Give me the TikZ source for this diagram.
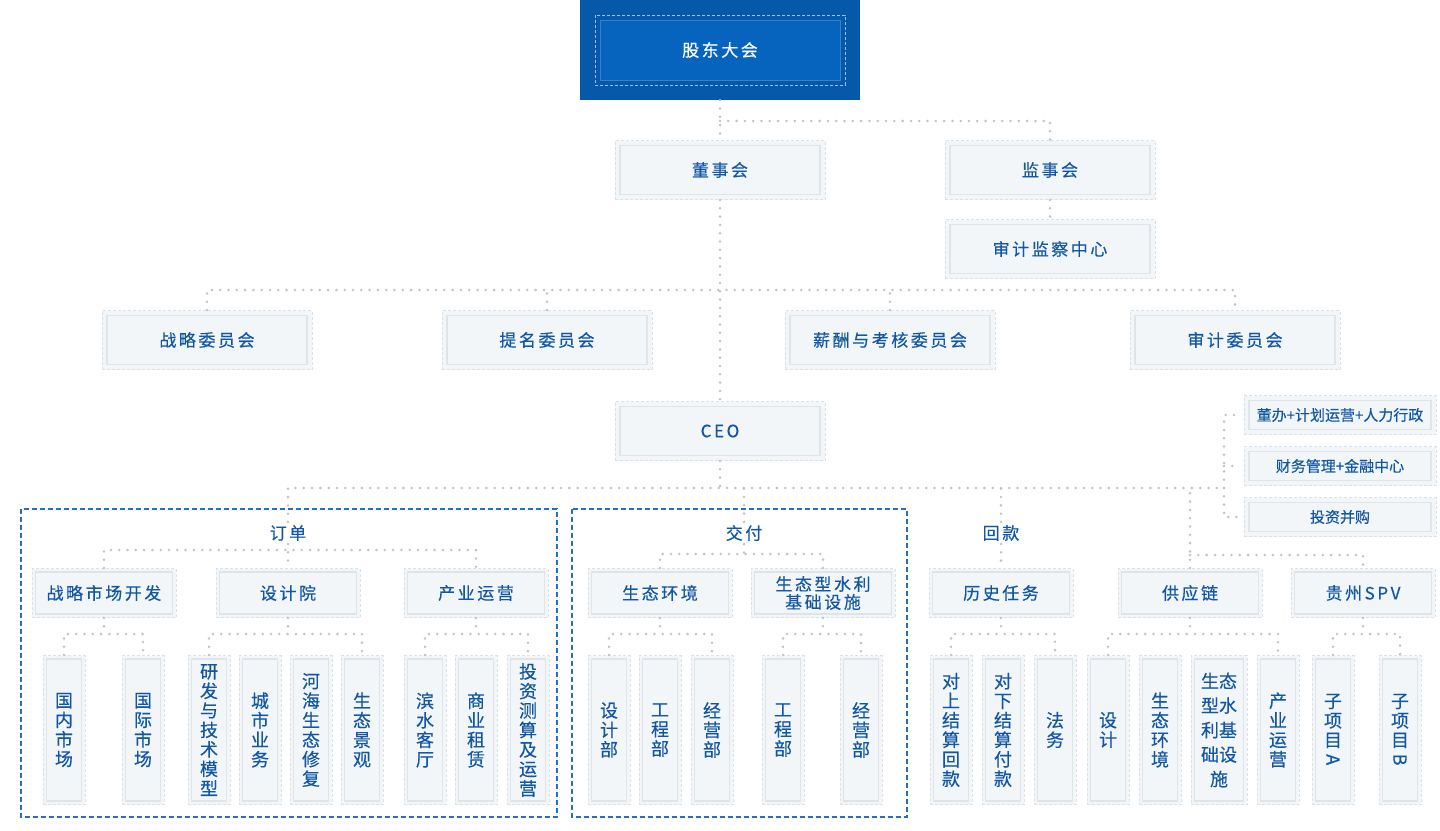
\documentclass[tikz,border=0pt]{standalone}
\usepackage{fontspec}
\usepackage{graphicx}
\setmainfont{Noto Sans CJK SC}
\newfontfamily\cjk[FakeBold=0.4]{Noto Sans CJK SC}
\newfontfamily\cjkwide[LetterSpace=15, FakeBold=0.4]{Noto Sans CJK SC}

\definecolor{topblue}{HTML}{0559A8}
\definecolor{topinner}{HTML}{0664BE}
\definecolor{topedge}{HTML}{3A80C8}
\definecolor{topdash}{HTML}{9DC2E8}
\definecolor{boxfill}{HTML}{F3F6F9}
\definecolor{boxedge}{HTML}{DFE4E9}
\definecolor{boxdash}{HTML}{DCE1E6}
\definecolor{txtblue}{HTML}{1257A5}
\definecolor{dotgray}{HTML}{BFC3C7}
\definecolor{frameblue}{HTML}{2470BE}

\newcommand\boxinset{5pt}

\tikzset{
  inset/.code={\def\boxinset{#1}},
  unit/.style={draw=boxdash, dash pattern=on 3pt off 2pt, line width=1pt,
    fill=boxfill, text=txtblue, inner sep=0pt, align=center,
    minimum width=210pt, minimum height=59pt,
    font=\cjkwide\fontsize{17pt}{18pt}\selectfont,
    path picture={\draw[boxedge, solid, line width=1.2pt]
      ([xshift=\boxinset, yshift=-\boxinset]path picture bounding box.north west) rectangle
      ([xshift=-\boxinset, yshift=\boxinset]path picture bounding box.south east);}},
  mid/.style={unit, minimum width=144pt, minimum height=49pt, inset=3.5pt},
  leaf/.style={unit, minimum width=42pt, minimum height=149pt, inset=3.5pt,
    font=\cjk\fontsize{18pt}{19.5pt}\selectfont, node distance=51pt},
  side/.style={unit, minimum width=192pt, minimum height=39pt,
    font=\cjk\fontsize{15pt}{15pt}\selectfont},
  tag/.style={text=txtblue, inner sep=3pt, font=\cjkwide\fontsize{17pt}{18pt}\selectfont},
  topbox/.style={fill=topblue, text=white, inner sep=0pt,
    minimum width=280pt, minimum height=100pt,
    font=\cjkwide\fontsize{17pt}{18pt}\selectfont,
    path picture={
      \draw[topdash, line width=1pt, dash pattern=on 3pt off 2pt]
        ([xshift=15pt, yshift=-15pt]path picture bounding box.north west) rectangle
        ([xshift=-15pt, yshift=15pt]path picture bounding box.south east);
      \draw[topedge, fill=topinner, line width=1pt]
        ([xshift=20pt, yshift=-20pt]path picture bounding box.north west) rectangle
        ([xshift=-20pt, yshift=20pt]path picture bounding box.south east);}},
  dotline/.style={draw=dotgray, line width=2.8pt, line cap=round,
    dash pattern=on 0pt off 8.3pt},
  team/.style={draw=frameblue, line width=1.6pt, dash pattern=on 5pt off 3pt}
}

\begin{document}
\begin{tikzpicture}[x=1pt, y=-1pt]
  \useasboundingbox (0,0) rectangle (1440,830);

  % groups
  \draw[team] (21,509) rectangle (557,817);
  \draw[team] (572,509) rectangle (907,817);

  % top
  \node (gd)   [topbox] at (720,50)                     {股东大会};
  \node (dsh)  [unit, below of=gd, node distance=120pt]  {董事会};
  \node (jsh)  [unit, right of=dsh, node distance=330pt] {监事会};
  \node (sjjc) [unit, below of=jsh, node distance=79pt]  {审计监察中心};
  \node (ceo)  [unit, below of=dsh, node distance=261pt] {CEO};

  % committees
  \node (zlwy) [unit] at (207,340)                        {战略委员会};
  \node (tmwy) [unit, right of=zlwy, node distance=340pt] {提名委员会};
  \node (xcwy) [unit, right of=tmwy, node distance=343pt] {薪酬与考核委员会};
  \node (sjwy) [unit, right of=xcwy, node distance=345pt] {审计委员会};

  % staff
  \node (dban) [side] at (1340,415)                       {董办+计划运营+人力行政};
  \node (cwgl) [side, below of=dban, node distance=51pt]  {财务管理+金融中心};
  \node (tzbg) [side, below of=cwgl, node distance=51pt]  {投资并购};

  % lines of business
  \node (dd) [tag] at (288,533)  {订单};
  \node (jf) [tag] at (744,533)  {交付};
  \node (hk) [tag] at (1001,533) {回款};

  \node (zlsc)  [mid] at (104,593)                       {战略市场开发};
  \node (sjy)   [mid, below of=dd, node distance=60pt]   {设计院};
  \node (cyyy)  [mid] at (476,593)                       {产业运营};
  \node (sthj)  [mid] at (660,593)                       {生态环境};
  \node (stsl)  [mid, right of=sthj, node distance=163pt] {生态型水利\\基础设施};
  \node (lsrw)  [mid, below of=hk, node distance=60pt]   {历史任务};
  \node (gyl)   [mid] at (1190,593)                      {供应链};
  \node (gzspv) [mid, right of=gyl, node distance=173pt] {贵州SPV};

  % departments
  \node (gnsc) [leaf] at (64,730)                        {国\\内\\市\\场};
  \node (gjsc) [leaf, right of=gnsc, node distance=79pt] {国\\际\\市\\场};

  \node (yfjs) [leaf] at (209,730)          {研\\发\\与\\技\\术\\模\\型};
  \node (csyw) [leaf, right of=yfjs]        {城\\市\\业\\务};
  \node (hhst) [leaf, right of=csyw]        {河\\海\\生\\态\\修\\复};
  \node (stjg) [leaf, right of=hhst]        {生\\态\\景\\观};

  \node (bskt) [leaf] at (425,730)          {滨\\水\\客\\厅};
  \node (syzl) [leaf, right of=bskt]        {商\\业\\租\\赁};
  \node (tzcs) [leaf, right of=syzl, node distance=52pt] {投\\资\\测\\算\\及\\运\\营};

  \node (sjb)  [leaf] at (609,730)          {设\\计\\部};
  \node (gcb)  [leaf, right of=sjb]         {工\\程\\部};
  \node (jyb)  [leaf, right of=gcb, node distance=52pt] {经\\营\\部};

  \node (gcbb) [leaf] at (783,730)                        {工\\程\\部};
  \node (jybb) [leaf, right of=gcbb, node distance=78pt]  {经\\营\\部};

  \node (dsjs) [leaf] at (951,730)                        {对\\上\\结\\算\\回\\款};
  \node (dxjs) [leaf, right of=dsjs, node distance=52pt]  {对\\下\\结\\算\\付\\款};
  \node (fw)   [leaf, right of=dxjs, node distance=52pt]  {法\\务};

  \node (sj)    [leaf] at (1108,730)                      {设\\计};
  \node (sthjb) [leaf, right of=sj, node distance=52pt]   {生\\态\\环\\境};
  \node (stxs)  [leaf, right of=sthjb, node distance=59pt, minimum width=56pt,
                 font=\cjk\fontsize{18pt}{24.5pt}\selectfont] {生态\\型水\\利基\\础设\\施};
  \node (cyyyb) [leaf, right of=stxs, node distance=59pt] {产\\业\\运\\营};

  \node (zxa) [leaf] at (1333,730)                        {子\\项\\目\\\rotatebox[origin=c]{-90}{A}};
  \node (zxb) [leaf, right of=zxa, node distance=67pt]    {子\\项\\目\\\rotatebox[origin=c]{-90}{B}};

  % connectors
  \coordinate (b1) at (720,121);
  \coordinate (b2) at (720,290);
  \coordinate (b3) at (720,488);
  \coordinate (trunk) at (1224,488);

  \draw [dotline] (gd) -- (dsh);
  \draw [dotline] (b1) -| (jsh);
  \draw [dotline] (jsh) -- (sjjc);
  \draw [dotline] (dsh) -- (ceo);
  \draw [dotline] (zlwy) |- (b2) -| (sjwy);
  \draw [dotline] (tmwy) -- (tmwy |- b2);
  \draw [dotline] (xcwy) -- (xcwy |- b2);

  \draw [dotline] (ceo) -- (b3);
  \draw [dotline] (dd) |- (trunk);
  \draw [dotline] (jf) -- (jf |- b3);
  \draw [dotline] (hk) -- (hk |- b3);
  \draw [dotline] (gyl) -- (gyl |- b3);
  \draw [dotline, shorten >=7pt] (trunk) |- (dban);
  \draw [dotline, shorten >=7pt] (trunk) |- (tzbg);
  \draw [dotline, shorten >=7pt] (trunk |- cwgl) -- (cwgl);

  \draw [dotline] (dd) -- (sjy);
  \draw [dotline] (zlsc) |- (sjy |- 0,550) -| (cyyy);
  \draw [dotline] (jf) -- (jf |- 0,554);
  \draw [dotline] (sthj) |- (jf |- 0,554) -| (stsl);
  \draw [dotline] (hk) -- (lsrw);
  \draw [dotline] (gyl |- 0,555) -| (gzspv);

  \foreach \p/\a/\b in {zlsc/gnsc/gjsc, sjy/yfjs/stjg, cyyy/bskt/tzcs,
      sthj/sjb/jyb, stsl/gcbb/jybb, lsrw/dsjs/fw, gyl/sj/cyyyb, gzspv/zxa/zxb} {
    \draw [dotline] (\p) -- (\p |- 0,634);
    \draw [dotline] (\a) |- (\p |- 0,634) -| (\b);
  }
\end{tikzpicture}
\end{document}
